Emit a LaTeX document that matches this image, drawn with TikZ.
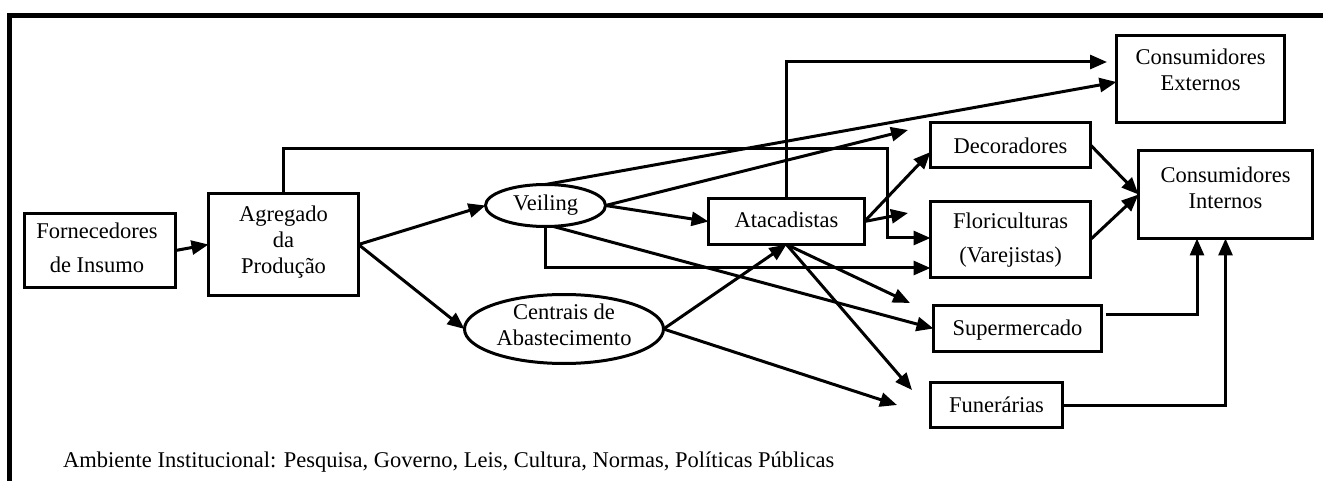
\documentclass[tikz,border=0pt]{standalone}
\usepackage{fontspec}
\setmainfont{Liberation Serif}
\usetikzlibrary{arrows.meta,shapes.geometric,calc}
\begin{document}
\begin{tikzpicture}[x=1pt,y=-1pt,
  box/.style={draw,line width=3pt,rectangle,inner sep=0pt,outer sep=0pt},
  oval/.style={draw,line width=3pt,ellipse,inner sep=0pt,outer sep=0pt},
  txt/.style={align=center,inner sep=0pt,font=\fontsize{22.5}{26}\selectfont},
  arr/.style={line width=3pt,-{Triangle[length=17pt,width=14pt]}},
  con/.style={line width=3pt}]
\useasboundingbox (0,0) rectangle (1323,481);
% frame
\draw[line width=5pt,line join=miter] (9,481) -- (9,16) -- (1323,16);
% boxes
\node[box,minimum width=151pt,minimum height=74pt] (fe) at (100,250.5) {};
\node[box,minimum width=150pt,minimum height=102pt] (ag) at (283.5,244.5) {};
\node[oval,minimum width=120pt,minimum height=42pt] (ve) at (545.5,205.5) {};
\node[oval,minimum width=199pt,minimum height=69pt] (ce) at (564,329) {};
\node[box,minimum width=156pt,minimum height=46pt] (at) at (786.5,221.5) {};
\node[box,minimum width=168pt,minimum height=87pt] (cx) at (1200.5,79) {};
\node[box,minimum width=160pt,minimum height=45pt] (de) at (1010.5,145) {};
\node[box,minimum width=160pt,minimum height=76pt] (fl) at (1010.5,239.5) {};
\node[box,minimum width=174pt,minimum height=88pt] (ci) at (1225.5,194.5) {};
\node[box,minimum width=168pt,minimum height=46pt] (su) at (1017.5,328.5) {};
\node[box,minimum width=132pt,minimum height=45pt] (fu) at (996.5,405) {};
% texts
\node[txt] (fet) at (97,248) {Fornecedores\\[8pt]de Insumo};
\node[txt] (agt) at (283.5,242.5) {Agregado\\da\\Produção};
\node[txt] (vet) at (545.5,205) {Veiling};
\node[txt] (cet) at (564,325) {Centrais de\\Abastecimento};
\node[txt] (att) at (786.5,220) {Atacadistas};
\node[txt] (cxt) at (1200.5,70) {Consumidores\\Externos};
\node[txt] (det) at (1010.5,146) {Decoradores};
\node[txt] (flt) at (1010.5,240) {Floriculturas\\[8pt](Varejistas)};
\node[txt] (cit) at (1225.5,187.5) {Consumidores\\Internos};
\node[txt] (sut) at (1017.5,330) {Supermercado};
\node[txt] (fut) at (996.5,405) {Funerárias};
\node[txt,anchor=west] (amb) at (63,462) {Ambiente Institucional: Pesquisa, Governo, Leis, Cultura, Normas, Políticas Públicas};
% free ends
\coordinate (k1) at (887,149);
\coordinate (k2) at (1107,62);
\coordinate (k3) at (908,130);
\coordinate (k4) at (908,213);
\coordinate (k5) at (910,303);
\coordinate (k6) at (912,390);
\coordinate (k7) at (897,405);
% connectors
\draw[arr] (fe.east) -- (ag.west);
\draw[arr] (ag.east) -- (ve.west);
\draw[arr] (ag.east) -- (ce.west);
\draw[arr] (ag.north) |- (k1) |- ([yshift=1.5pt]fl.west);
\draw[arr] (ve.east) -- (at.west);
\draw[arr] (ve.north) -- ([yshift=-3pt]cx.west);
\draw[arr] (at.north) |- (k2);
\draw[arr] (ve.east) -- (k3);
\draw[arr] (at.east) -- ([yshift=-7pt]de.west);
\draw[arr] (at.east) -- (k4);
\draw[arr] (ve.south) |- ([yshift=-28.5pt]fl.west);
\draw[arr] ([xshift=8pt]ve.south) -- (su.west);
\draw[arr] (at.south) -- (k5);
\draw[arr] (at.south) -- (k6);
\draw[arr] (ce.east) -- (at.south);
\draw[arr] (ce.east) -- (k7);
\draw[arr] (de.east) -- (ci.west);
\draw[arr] (fl.east) -- (ci.west);
\draw[arr] ([xshift=4pt,yshift=14.5pt]su.east) -| ([xshift=-28.5pt]ci.south);
\draw[arr] (fu.east) -| (ci.south);
\end{tikzpicture}
\end{document}
